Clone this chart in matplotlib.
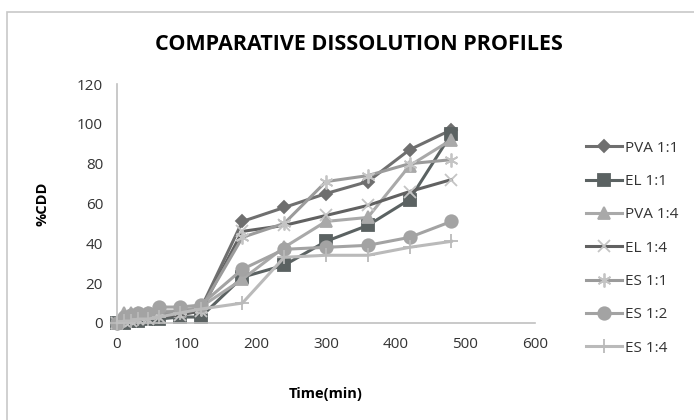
import matplotlib
matplotlib.use("Agg")
import matplotlib.pyplot as plt
from matplotlib.patches import Rectangle

# tiempos de muestreo (min)
tiempo = [0, 10, 20, 30, 45, 60, 90, 120, 180, 240, 300, 360, 420, 480]

# % disuelto acumulado por formulacion
pva_1_1 = [0, 1, 2, 2, 3, 4, 5, 7, 51, 58, 65, 71, 87, 97]
el_1_1 = [0, 0, 1, 1, 2, 2, 3, 3, 23, 29, 41, 49, 62, 95]
pva_1_4 = [0, 5, 5, 5, 5, 6, 6, 8, 22, 38, 51, 53, 79, 92]
el_1_4 = [0, 1, 1, 2, 2, 3, 4, 6, 46, 49, 54, 59, 66, 72]
es_1_1 = [0, 2, 3, 3, 4, 5, 6, 7, 43, 50, 71, 74, 80, 82]
es_1_2 = [0, 3, 4, 5, 5, 8, 8, 9, 27, 37, 38, 39, 43, 51]
es_1_4 = [0, 1, 1, 2, 2, 3, 5, 7, 10, 33, 34, 34, 38, 41]

etiquetas = ["PVA 1:1", "EL 1:1", "PVA 1:4", "EL 1:4", "ES 1:1", "ES 1:2", "ES 1:4"]
series = [pva_1_1, el_1_1, pva_1_4, el_1_4, es_1_1, es_1_2, es_1_4]

# estilo de cada serie: color de linea, marcador, tamano, color de marcador
estilos = [
    ("#6f6f6f", "D", 6.5, "#6f6f6f"),
    ("#5b6262", "s", 9, "#5b6262"),
    ("#a9a9a9", "^", 8, "#a9a9a9"),
    ("#616161", "x", 9, "#c4c4c4"),
    ("#9b9b9b", (6, 2, 0), 10, "#c4c4c4"),
    ("#a3a3a3", "o", 9, "#a3a3a3"),
    ("#bababa", "+", 10, "#bababa"),
]

plt.rcParams["font.family"] = ["Open Sans", "DejaVu Sans"]

fig = plt.figure(figsize=(6.94, 4.2), dpi=100)
fig.patches.append(Rectangle((7 / 694, -0.1), 1.1, 1 - 12 / 420 + 0.1,
                             transform=fig.transFigure, fill=False,
                             edgecolor="#c8c8c8", linewidth=1.2))

ax = fig.add_axes([117 / 694, 1 - 323 / 420, (535 - 117) / 694, (323 - 84) / 420])

for datos, nombre, (col, mk, ms, mcol) in zip(series, etiquetas, estilos):
    ax.plot(tiempo, datos, color=col, linewidth=2.2, marker=mk, markersize=ms,
            markerfacecolor=mcol, markeredgecolor=mcol, markeredgewidth=1.3,
            label=nombre, clip_on=False)

ax.set_xlim(0, 600)
ax.set_ylim(0, 120)
ax.set_xticks(range(0, 601, 100))
ax.set_yticks(range(0, 121, 20))
ax.tick_params(length=0, labelsize=11, colors="#333333", pad=10)
for s in ["top", "right"]:
    ax.spines[s].set_visible(False)
for s in ["left", "bottom"]:
    ax.spines[s].set_color("#c0c0c0")
    ax.spines[s].set_linewidth(1.2)

ax.set_xlabel("Time(min)", fontsize=10.5, fontweight="bold", labelpad=25)
ax.set_ylabel("%CDD", fontsize=10.5, fontweight="bold", labelpad=20)
fig.text(359 / 694, 1 - 45 / 420, "COMPARATIVE DISSOLUTION PROFILES",
         ha="center", va="center", fontsize=15.5, fontweight="bold")

fig.legend(loc="upper left", bbox_to_anchor=(572 / 694, 1 - 127 / 420),
           frameon=False, fontsize=11, handlelength=2.4, handletextpad=0.2,
           labelspacing=1.2, labelcolor="#333333")

fig.savefig("out.png", dpi=100)
